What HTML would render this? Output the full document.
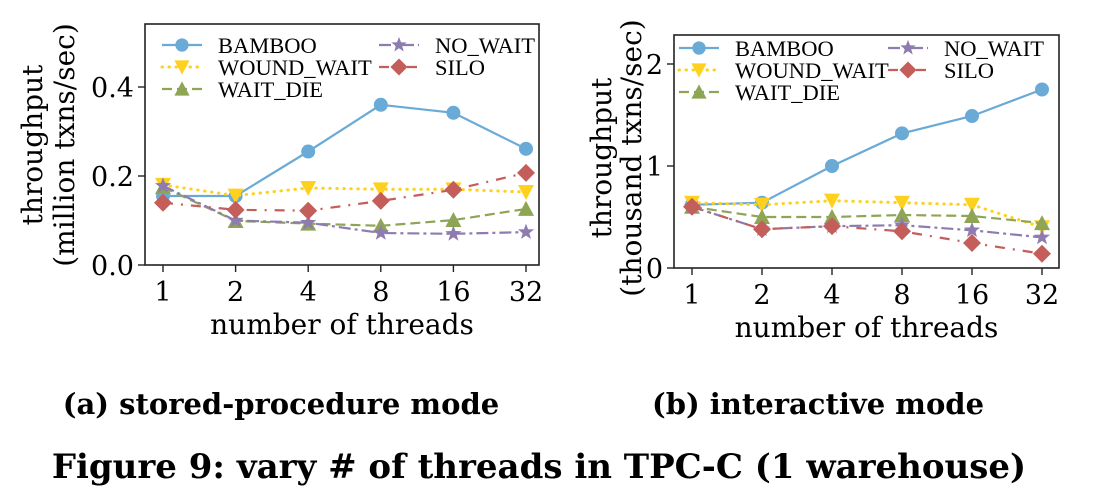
<!DOCTYPE html>
<html><head><meta charset="utf-8">
<style>
html,body{margin:0;padding:0;background:#fff;}
svg{display:block;}
text{font-family:"DejaVu Serif","Liberation Serif",serif;fill:#000;}
.leg{font-family:"Liberation Serif",serif;font-size:22.5px;}
</style></head>
<body>
<svg id="fig" width="1094" height="500" viewBox="0 0 1094 500" xmlns="http://www.w3.org/2000/svg">
<text x="281" y="414" font-size="29" font-weight="bold" text-anchor="middle">(a) stored-procedure mode</text>
<text x="818" y="414" font-size="29" font-weight="bold" text-anchor="middle">(b) interactive mode</text>
<text x="539" y="478" font-size="34" font-weight="bold" text-anchor="middle">Figure 9: vary # of threads in TPC-C (1 warehouse)</text>
</svg>
<script>
const categories = ["1","2","4","8","16","32"];
const seriesNames = ["BAMBOO","WOUND_WAIT","WAIT_DIE","NO_WAIT","SILO"];
const aBamboo = [0.155,0.155,0.255,0.36,0.342,0.261];
const aWound = [0.18,0.156,0.173,0.17,0.17,0.164];
const aWaitDie = [0.175,0.099,0.093,0.088,0.101,0.126];
const aNoWait = [0.178,0.1,0.095,0.072,0.07,0.074];
const aSilo = [0.14,0.124,0.122,0.144,0.169,0.207];
const bBamboo = [0.62,0.64,1.0,1.32,1.49,1.75];
const bWound = [0.64,0.62,0.66,0.64,0.62,0.4];
const bWaitDie = [0.6,0.5,0.5,0.52,0.51,0.44];
const bNoWait = [0.6,0.38,0.41,0.42,0.37,0.3];
const bSilo = [0.6,0.38,0.41,0.36,0.245,0.14];
const aTicks = [0,0.2,0.4];
const aTickLabels = ["0.0","0.2","0.4"];
const bTicks = [0,1,2];
const bTickLabels = ["0","1","2"];

const NS="http://www.w3.org/2000/svg";
const svg=document.getElementById('fig');
function mk(tag,attrs,parent){const e=document.createElementNS(NS,tag);for(const k in attrs)e.setAttribute(k,attrs[k]);(parent||svg).appendChild(e);return e;}
const styles=[
 {c:"#6aaad6",dash:"",m:"circle"},
 {c:"#fed11f",dash:"2.5,6",m:"tridown"},
 {c:"#8fa556",dash:"10,5",m:"triup"},
 {c:"#8e7cb0",dash:"12,4,3,4",m:"star"},
 {c:"#c45e5a",dash:"10,8,2,8",m:"diamond"}
];
function marker(g,type,x,y,c,s){
 s=s||1;let e;
 if(type==="circle") e=mk('circle',{cx:x,cy:y,r:7*s,fill:c},g);
 else if(type==="tridown") e=mk('polygon',{points:`${x-8*s},${y-7*s} ${x+8*s},${y-7*s} ${x},${y+8*s}`,fill:c},g);
 else if(type==="triup") e=mk('polygon',{points:`${x-8*s},${y+7*s} ${x+8*s},${y+7*s} ${x},${y-8*s}`,fill:c},g);
 else if(type==="diamond") e=mk('polygon',{points:`${x},${y-9*s} ${x+9*s},${y} ${x},${y+9*s} ${x-9*s},${y}`,fill:c},g);
 else {let p=[];for(let i=0;i<10;i++){const r=(i%2?3.5:8.5)*s,a=-Math.PI/2+i*Math.PI/5;p.push((x+r*Math.cos(a)).toFixed(1)+","+(y+r*Math.sin(a)).toFixed(1));}e=mk('polygon',{points:p.join(' '),fill:c},g);}
 return e;
}
function chart(o){
 const g=mk('g',{});
 
 
 const xs=i=>o.x0+(o.x1-o.x0)*i/(categories.length-1);
 const ys=v=>o.yb-(v/o.ymax)*(o.yb-o.yt);
 o.series.forEach((vals,si)=>{
  const st=styles[si];
  const sg=mk('g',{},g);
  
  
  const pts=vals.map((v,i)=>xs(i).toFixed(1)+","+ys(v).toFixed(1)).join(' ');
  const attrs={points:pts,fill:"none",stroke:st.c,"stroke-width":2.2};
  if(st.dash)attrs["stroke-dasharray"]=st.dash;
  if(si===1){attrs["stroke-linecap"]="round";attrs["stroke-dasharray"]="0.5,6.5";attrs["stroke-width"]=3;}
  mk('polyline',attrs,sg);
  vals.forEach((v,i)=>{const m=marker(sg,st.m,xs(i),ys(v),st.c);
   
   });
 });
 const fr=mk('rect',{x:o.L,y:o.yt,width:o.R-o.L,height:o.yb-o.yt,fill:"none",stroke:"#222","stroke-width":1.6},g);
 
 
 categories.forEach((c,i)=>{
  mk('line',{x1:xs(i),x2:xs(i),y1:o.yb,y2:o.yb+7,stroke:"#222","stroke-width":1.4},g);
  const t=mk('text',{x:xs(i),y:o.yb+36,"font-size":27,"text-anchor":"middle"},g);t.textContent=c;
  
  
 });
 o.ticks.forEach((v,i)=>{
  mk('line',{x1:o.L-7,x2:o.L,y1:ys(v),y2:ys(v),stroke:"#222","stroke-width":1.4},g);
  const t=mk('text',{x:o.L-11,y:ys(v)+10,"font-size":27,"text-anchor":"end"},g);t.textContent=o.tickLabels[i];
  
  
 });
 const xt=mk('text',{x:(o.L+o.R)/2,y:o.yb+69,"font-size":28,"text-anchor":"middle"},g);xt.textContent="number of threads";
 
 
 const cy=o.ytc;
 const y1=mk('text',{x:0,y:0,"font-size":28,"text-anchor":"middle",transform:`translate(${o.yl1},${cy}) rotate(-90)`},g);y1.textContent="throughput";
 
 
 const y2=mk('text',{x:0,y:0,"font-size":28,"text-anchor":"middle",transform:`translate(${o.yl2},${cy}) rotate(-90)`},g);y2.textContent=o.unit;
 
 
 const lg=mk('g',{},g);
 
 
 const pos=[[0,0],[0,1],[0,2],[1,0],[1,1]];
 seriesNames.forEach((n,si)=>{
  const st=styles[si];
  const lx=o.legX+pos[si][0]*o.legCol, ly=o.legY+pos[si][1]*22;
  const e=mk('g',{},lg);
  
  
  const la={x1:lx,x2:lx+40,y1:ly,y2:ly,stroke:st.c,"stroke-width":2.2};
  if(st.dash)la["stroke-dasharray"]=st.dash;
  if(si===1){la["stroke-linecap"]="round";la["stroke-dasharray"]="0.5,6.5";la["stroke-width"]=3;}
  mk('line',la,e);
  marker(e,st.m,lx+20,ly,st.c,0.95);
  const t=mk('text',{x:lx+56,y:ly+8,class:"leg"},e);t.textContent=n;
 });
}
chart({name:'chart-a-stored-procedure',L:145,R:539,yt:24,yb:265,x0:163,x1:526,ymax:0.2*(241/89),
 series:[aBamboo,aWound,aWaitDie,aNoWait,aSilo],ticks:aTicks,tickLabels:aTickLabels,
 unit:"(million txns/sec)",yl1:42,yl2:74,ytc:145,legX:162,legY:45,legCol:217});
chart({name:'chart-b-interactive',L:674,R:1059,yt:35,yb:268,x0:692,x1:1042,ymax:233/102,
 series:[bBamboo,bWound,bWaitDie,bNoWait,bSilo],ticks:bTicks,tickLabels:bTickLabels,
 unit:"(thousand txns/sec)",yl1:611,yl2:641,ytc:158,legX:679,legY:48,legCol:209});
</script>
</body></html>
